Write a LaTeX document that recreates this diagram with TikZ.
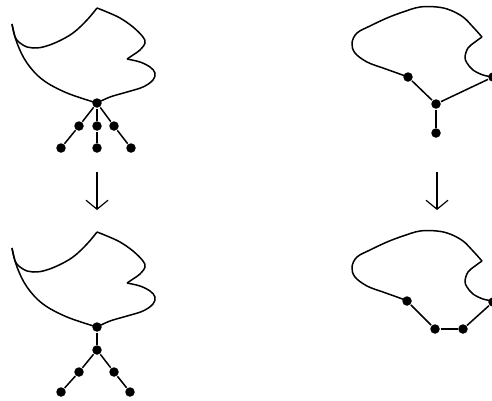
\documentclass[tikz,border=0pt]{standalone}
\usetikzlibrary{positioning,arrows.meta}

\begin{document}
\begin{tikzpicture}[x=1pt, y=-1pt, on grid, line width=1.5pt,
                    dot/.style={circle,fill,inner sep=0pt,minimum size=9.5pt},
                    blob/.style={smooth,tension=0.6},
                    down arrow/.style={line width=1.2pt,-{Straight Barb[length=9pt,width=22pt]}}]
\useasboundingbox (0,0) rectangle (492,400);

% left blob, before and after
\foreach \dy in {0,224} {
  \begin{scope}[shift={(0,\dy)}]
    \draw plot[blob] coordinates {(12,24) (15,37) (20,43) (27,47) (33,48) (43,47) (57,42) (73,33) (87,20) (97,8)};
    \draw plot[blob] coordinates {(97,8) (107,12) (120,18) (133,27) (143,37) (145,43) (140,50) (133,55) (127,59)};
    \draw plot[blob] coordinates {(127,59) (140,62) (150,67) (155,73) (153,80) (143,87) (127,92) (110,97) (97,103)};
    \draw plot[blob] coordinates {(12,24) (17,43) (27,63) (43,80) (67,93) (97,103)};
  \end{scope}
}

% right blob, before and after
\foreach \dy in {0,224} {
  \begin{scope}[shift={(0,\dy)}]
    \draw plot[blob] coordinates {(408,77) (397,73) (383,68) (367,62) (355,53) (352,43) (357,33) (370,26) (387,18) (403,12) (420,7) (437,7) (450,10) (463,17) (473,27) (482,37)};
    \draw plot[blob] coordinates {(482,37) (475,42) (468,48) (465,57) (467,63) (473,70) (483,75) (493,77)};
  \end{scope}
}

% top left tree
\node[dot] (tl) at (97,103) {};
\node[dot] (tl-a) [below left=23pt and 18pt of tl] {};
\node[dot] (tl-b) [below=23pt of tl] {};
\node[dot] (tl-c) [below right=23pt and 17pt of tl] {};
\node[dot] (tl-d) [below left=22pt and 18pt of tl-a] {};
\node[dot] (tl-e) [below=22pt of tl-b] {};
\node[dot] (tl-f) [below right=22pt and 17pt of tl-c] {};

% bottom left tree
\node[dot] (bl) at (97,327) {};
\node[dot] (bl-a) [below=23pt of bl] {};
\node[dot] (bl-b) [below left=22pt and 18pt of bl-a] {};
\node[dot] (bl-c) [below right=22pt and 17pt of bl-a] {};
\node[dot] (bl-d) [below left=20pt and 18pt of bl-b] {};
\node[dot] (bl-e) [below right=20pt and 16pt of bl-c] {};

% top right
\node[dot] (tr) at (436,104) {};
\node[dot] (tr-l) [above left=27pt and 28pt of tr] {};
\node[dot] (tr-r) [above right=27pt and 57pt of tr] {};
\node[dot] (tr-b) [below=29pt of tr] {};

% bottom right
\node[dot] (br-a) at (435,329) {};
\node[dot] (br-b) [right=28pt of br-a] {};
\node[dot] (br-l) [above left=28pt and 28pt of br-a] {};
\node[dot] (br-r) [above right=27pt and 30pt of br-b] {};

\path
    (tl) edge (tl-a)
    (tl) edge (tl-b)
    (tl) edge (tl-c)
    (tl-a) edge (tl-d)
    (tl-b) edge (tl-e)
    (tl-c) edge (tl-f)
    (bl) edge (bl-a)
    (bl-a) edge (bl-b)
    (bl-a) edge (bl-c)
    (bl-b) edge (bl-d)
    (bl-c) edge (bl-e)
    (tr-l) edge (tr)
    (tr-r) edge (tr)
    (tr) edge (tr-b)
    (br-l) edge (br-a)
    (br-a) edge (br-b)
    (br-b) edge (br-r);

% arrows
\coordinate (la-s) at (97,172);
\coordinate (la-e) at (97,210);
\coordinate (ra-s) at (437,172);
\coordinate (ra-e) at (437,210);
\draw[down arrow] (la-s) -- (la-e);
\draw[down arrow] (ra-s) -- (ra-e);

\end{tikzpicture}
\end{document}
